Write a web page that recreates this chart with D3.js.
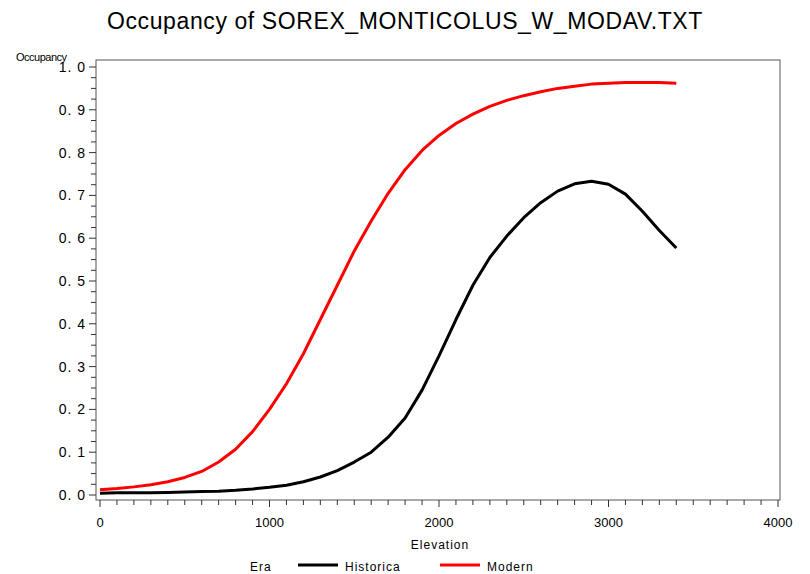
<!DOCTYPE html>
<html>
<head>
<meta charset="utf-8">
<script src="https://cdn.jsdelivr.net/npm/d3@7"></script>
<style>
  body { margin: 0; background: #fff; }
  text { font-family: "Liberation Sans", Arial, sans-serif; }
</style>
</head>
<body>
<script>
var width = 810,
    height = 574;

// elevation steps (every 100 m)
var elevation = [0, 100, 200, 300, 400, 500, 600, 700, 800, 900,
  1000, 1100, 1200, 1300, 1400, 1500, 1600, 1700, 1800, 1900,
  2000, 2100, 2200, 2300, 2400, 2500, 2600, 2700, 2800, 2900,
  3000, 3100, 3200, 3300, 3400];

// historic occupancy (black)
var historica = [0.004, 0.005, 0.005, 0.005, 0.006, 0.007, 0.008, 0.009, 0.011, 0.014,
  0.018, 0.023, 0.031, 0.042, 0.057, 0.077, 0.100, 0.135, 0.180, 0.245,
  0.325, 0.410, 0.490, 0.555, 0.605, 0.648, 0.683, 0.710, 0.727, 0.733,
  0.726, 0.703, 0.663, 0.618, 0.577];

// modern occupancy (red)
var modern = [0.012, 0.015, 0.019, 0.024, 0.031, 0.041, 0.055, 0.077, 0.107, 0.148,
  0.200, 0.260, 0.330, 0.410, 0.490, 0.570, 0.640, 0.705, 0.760, 0.805,
  0.840, 0.868, 0.890, 0.908, 0.922, 0.933, 0.942, 0.950, 0.955, 0.960,
  0.962, 0.964, 0.964, 0.964, 0.962];

var xTicks = [0, 1000, 2000, 3000, 4000];
var yTicks = [0, 0.1, 0.2, 0.3, 0.4, 0.5, 0.6, 0.7, 0.8, 0.9, 1.0];

var svg = d3.select("body")
    .append("svg")
    .attr("width", width)
    .attr("height", height);

var x = d3.scaleLinear().domain([0, 4000]).range([100, 778]);
var y = d3.scaleLinear().domain([0, 1]).range([495, 67]);

// frame
svg.append("rect")
    .attr("x", 96).attr("y", 60)
    .attr("width", 780 - 96).attr("height", 500 - 60)
    .attr("fill", "none")
    .attr("stroke", "#555")
    .attr("stroke-width", 1);

// x axis: major + minor ticks
var xAxis = svg.append("g").attr("transform", "translate(0,500)");
xAxis.selectAll("line.minor")
    .data(d3.range(0, 4001, 100))
    .enter().append("line")
    .attr("x1", d => x(d)).attr("x2", d => x(d))
    .attr("y1", 0).attr("y2", d => d % 1000 == 0 ? 7 : 5)
    .attr("stroke", "#333");
xAxis.selectAll("text")
    .data(xTicks)
    .enter().append("text")
    .attr("x", d => x(d)).attr("y", 27)
    .attr("text-anchor", "middle")
    .attr("font-size", 13)
    .text(d => d);

// y axis
var yAxis = svg.append("g").attr("transform", "translate(96,0)");
yAxis.selectAll("line")
    .data(d3.range(0, 41).map(i => i / 40))
    .enter().append("line")
    .attr("x1", d => Math.round(d * 40) % 4 == 0 ? -7 : -5).attr("x2", 0)
    .attr("y1", d => y(d)).attr("y2", d => y(d))
    .attr("stroke", "#333");
yAxis.selectAll("text")
    .data(yTicks)
    .enter().append("text")
    .attr("x", -10).attr("y", d => y(d) + 5)
    .attr("text-anchor", "end")
    .attr("font-size", 14)
    .attr("letter-spacing", 1)
    .text(d => d3.format(".1f")(d).replace(".", ". "));

// lines (straight joins between points)
var line = d3.line()
    .x((d, i) => x(elevation[i]))
    .y(d => y(d));

svg.append("path")
    .datum(historica)
    .attr("d", line)
    .attr("fill", "none")
    .attr("stroke", "#000")
    .attr("stroke-width", 3)
    .attr("stroke-linejoin", "round");

svg.append("path")
    .datum(modern)
    .attr("d", line)
    .attr("fill", "none")
    .attr("stroke", "#ff0000")
    .attr("stroke-width", 3)
    .attr("stroke-linejoin", "round");

// title and labels
svg.append("text")
    .attr("x", 405).attr("y", 29)
    .attr("text-anchor", "middle")
    .attr("font-size", 23)
    .attr("letter-spacing", 0.6)
    .text("Occupancy of SOREX_MONTICOLUS_W_MODAV.TXT");

svg.append("text")
    .attr("x", 16).attr("y", 61)
    .attr("font-size", 11)
    .attr("letter-spacing", -0.5)
    .text("Occupancy");

svg.append("text")
    .attr("x", 440).attr("y", 549)
    .attr("text-anchor", "middle")
    .attr("font-size", 12)
    .attr("letter-spacing", 1)
    .text("Elevation");

// legend
var legend = svg.append("g").attr("transform", "translate(0,567)");
legend.append("text").attr("x", 250).attr("y", 4).attr("font-size", 12).attr("letter-spacing", 1).text("Era");
var items = [["Historica", "#000", 298], ["Modern", "#ff0000", 440]];
items.forEach(function(it) {
    legend.append("line")
        .attr("x1", it[2]).attr("x2", it[2] + 40)
        .attr("y1", -2).attr("y2", -2)
        .attr("stroke", it[1]).attr("stroke-width", 3);
    legend.append("text")
        .attr("x", it[2] + 47).attr("y", 4)
        .attr("font-size", 12)
        .attr("letter-spacing", 1)
        .text(it[0]);
});
</script>
</body>
</html>
